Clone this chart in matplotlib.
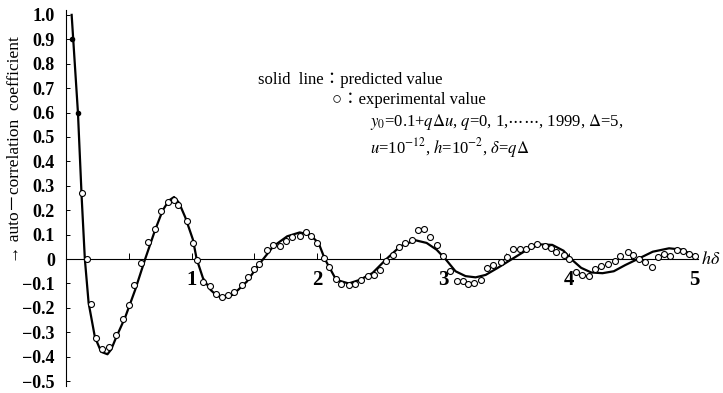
import numpy as np
import matplotlib
matplotlib.use('Agg')
import matplotlib.pyplot as plt

plt.rcParams['font.family'] = ['Liberation Serif', 'DejaVu Serif', 'DejaVu Sans']
plt.rcParams['mathtext.fontset'] = 'stix'

# predicted value (solid line)
pred_x = [0.045, 0.07, 0.095, 0.125, 0.15, 0.18, 0.23, 0.28, 0.33, 0.36, 0.40, 0.47,
          0.55, 0.63, 0.71, 0.77, 0.82, 0.86, 0.90, 0.95, 1.01, 1.04, 1.09, 1.15,
          1.20, 1.25, 1.33, 1.44, 1.53, 1.57, 1.65, 1.76, 1.86, 1.94, 2.01, 2.06,
          2.15, 2.25, 2.34, 2.44, 2.55, 2.66, 2.78, 2.87, 2.95, 3.02, 3.10, 3.18,
          3.26, 3.34, 3.44, 3.55, 3.67, 3.77, 3.87, 3.96, 4.02, 4.10, 4.18, 4.27,
          4.36, 4.45, 4.55, 4.67, 4.80, 4.91, 5.0]
pred_y = [1.0, 0.8, 0.6, 0.25, 0.0, -0.18, -0.32, -0.38, -0.39, -0.37, -0.32, -0.24,
          -0.127, 0.0, 0.12, 0.2, 0.24, 0.254, 0.23, 0.17, 0.08, 0.0, -0.078, -0.126,
          -0.15, -0.157, -0.146, -0.092, -0.026, 0.0, 0.052, 0.093, 0.109, 0.10, 0.066, 0.0,
          -0.085, -0.10, -0.085, -0.057, 0.0, 0.052, 0.077, 0.066, 0.038, 0.0, -0.05, -0.07,
          -0.075, -0.065, -0.035, 0.0, 0.038, 0.06, 0.058, 0.034, 0.0, -0.036, -0.055, -0.058,
          -0.05, -0.025, 0.0, 0.03, 0.044, 0.038, 0.01]

# experimental values (open circles)
exp_x = [0.125, 0.165, 0.196, 0.24, 0.29, 0.345, 0.40, 0.456, 0.50, 0.54, 0.60, 0.655,
         0.71, 0.76, 0.81, 0.86, 0.89, 0.96, 1.01, 1.045, 1.09, 1.15, 1.19, 1.24,
         1.29, 1.34, 1.40, 1.45, 1.50, 1.54, 1.60, 1.65, 1.70, 1.75, 1.80, 1.86,
         1.91, 1.95, 2.00, 2.05, 2.095, 2.15, 2.19, 2.25, 2.30, 2.35, 2.40, 2.45,
         2.50, 2.55, 2.60, 2.65, 2.70, 2.75, 2.80, 2.85, 2.90, 2.95, 3.00, 3.06,
         3.11, 3.16, 3.20, 3.25, 3.30, 3.35, 3.40, 3.46, 3.51, 3.56, 3.61, 3.66,
         3.70, 3.75, 3.81, 3.86, 3.90, 3.96, 4.00, 4.06, 4.11, 4.16, 4.21, 4.26,
         4.31, 4.37, 4.41, 4.47, 4.51, 4.56, 4.61, 4.66, 4.71, 4.76, 4.81, 4.86,
         4.91, 4.96, 5.01]
exp_y = [0.27, 0.0, -0.185, -0.325, -0.37, -0.36, -0.31, -0.246, -0.19, -0.107, -0.015, 0.071,
         0.123, 0.198, 0.232, 0.242, 0.221, 0.157, 0.067, -0.003, -0.092, -0.109, -0.143, -0.157,
         -0.146, -0.133, -0.105, -0.075, -0.04, -0.02, 0.038, 0.059, 0.055, 0.075, 0.089, 0.096,
         0.109, 0.093, 0.066, 0.004, -0.033, -0.081, -0.101, -0.108, -0.101, -0.085, -0.068, -0.067,
         -0.044, -0.007, 0.015, 0.049, 0.066, 0.079, 0.12, 0.123, 0.089, 0.059, 0.011, -0.048,
         -0.088, -0.09, -0.103, -0.097, -0.087, -0.035, -0.026, -0.012, 0.01, 0.043, 0.043, 0.04,
         0.052, 0.061, 0.052, 0.044, 0.03, 0.016, 0.0, -0.055, -0.067, -0.068, -0.041, -0.03,
         -0.019, -0.01, 0.011, 0.027, 0.018, 0.0, -0.014, -0.033, 0.008, 0.022, 0.014, 0.038,
         0.031, 0.022, 0.014]

# two filled points near the top
dot_x = [0.05, 0.095]
dot_y = [0.9, 0.6]

yticks = np.round(np.arange(-0.5, 1.01, 0.1), 1)
ylabels = ['1.0' if v == 1 else ('0' if v == 0 else ('\u22120.%d' % round(-v * 10) if v < 0 else '0.%d' % round(v * 10))) for v in yticks]
xticks = [1, 2, 3, 4, 5]
xlabels = ['1', '2', '3', '4', '5']

fig = plt.figure(figsize=(7.23, 3.93), dpi=100)
ax = fig.add_axes([66 / 723, 7 / 393, 632 / 723, 376 / 393])

ax.plot(pred_x, pred_y, color='black', lw=1.6, zorder=3)
ax.plot(exp_x, exp_y, 'o', mfc='white', mec='black', ms=4.3, mew=0.8, zorder=4)
ax.plot(dot_x, dot_y, 'o', color='black', ms=3, zorder=5)

ax.set_xlim(0, 5.03)
ax.set_ylim(-0.52, 1.02)

ax.spines['top'].set_visible(False)
ax.spines['right'].set_visible(False)
ax.spines['bottom'].set_position(('data', 0))
ax.spines['left'].set_linewidth(0.8)
ax.spines['bottom'].set_linewidth(0.8)

ax.set_yticks(yticks)
ax.set_yticklabels(ylabels, fontsize=13, fontweight='bold')
ax.set_xticks(xticks)
ax.set_xticklabels(xlabels, fontsize=15, fontweight='bold')
ax.set_xticks(np.arange(0.5, 5, 1.0), minor=True)
ax.tick_params(axis='y', direction='in', length=3, width=0.7, pad=8)
ax.tick_params(axis='x', which='both', direction='in', length=4, width=0.7, pad=8)

ax.text(5.055, 0.0, r'$h\delta$', fontsize=13, ha='left', va='center')

fig.text(15 / 723, 1 - 150 / 393, '\u2192 auto\uff0dcorrelation  coefficient',
         rotation=90, ha='center', va='center', fontsize=12.5,
         family=['Liberation Serif', 'Noto Sans CJK JP', 'DejaVu Sans'])

ax.text(1.53, 0.735, 'solid  line\uff1apredicted value', fontsize=12, ha='left', va='center',
        family=['Liberation Serif', 'Noto Sans CJK JP'])
ax.text(2.12, 0.65, '\u25cb\uff1aexperimental value', fontsize=12, ha='left', va='center',
        family=['Liberation Serif', 'DejaVu Sans', 'Noto Sans CJK JP'])
ax.text(2.42, 0.56, r'$y_0$=0.1+$q\Delta u$, $q$=0, 1,$\cdots\cdots$, 1999, $\Delta$=5,',
        fontsize=12, ha='left', va='center')
ax.text(2.42, 0.455, r'$u$=10$^{-12}$, $h$=10$^{-2}$, $\delta$=$q\Delta$',
        fontsize=12, ha='left', va='center')

fig.savefig('out.png', dpi=100)
